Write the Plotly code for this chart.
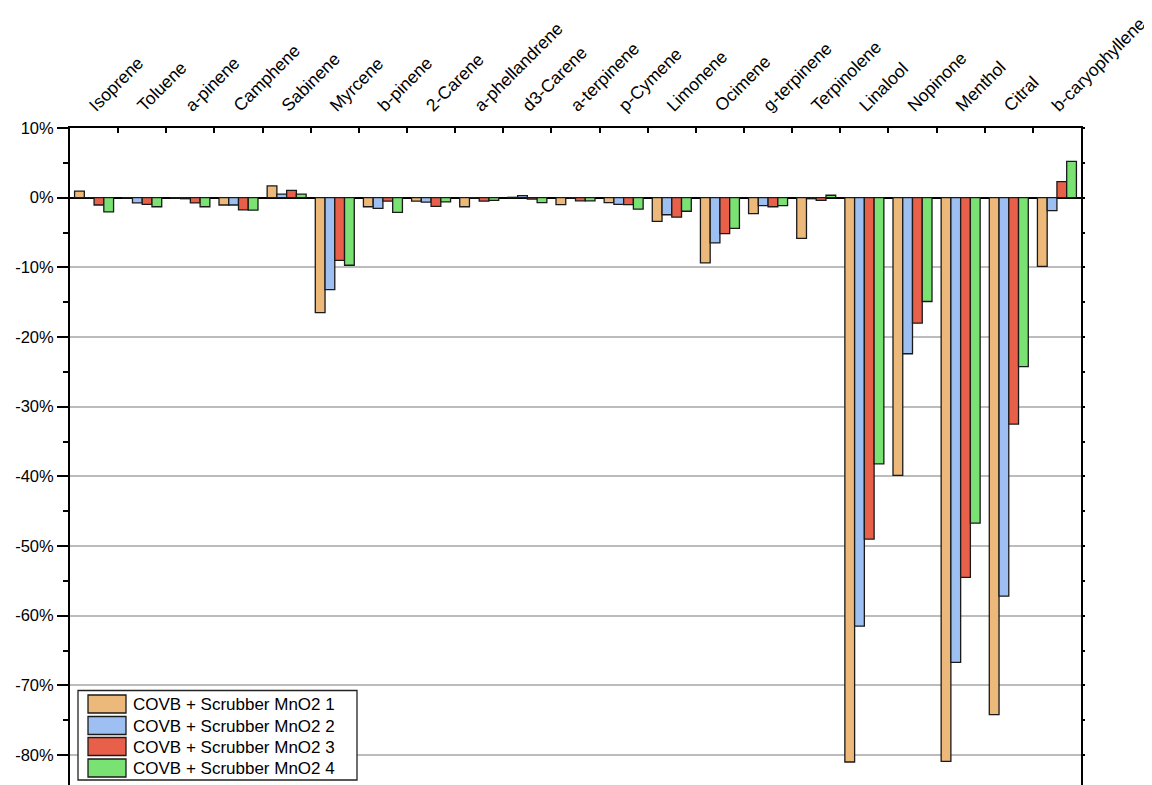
import plotly.graph_objects as go

categories = ["Isoprene", "Toluene", "a-pinene", "Camphene", "Sabinene", "Myrcene",
              "b-pinene", "2-Carene", "a-phellandrene", "d3-Carene", "a-terpinene",
              "p-Cymene", "Limonene", "Ocimene", "g-terpinene", "Terpinolene",
              "Linalool", "Nopinone", "Menthol", "Citral", "b-caryophyllene"]

series_names = ["COVB + Scrubber MnO2 1", "COVB + Scrubber MnO2 2",
                "COVB + Scrubber MnO2 3", "COVB + Scrubber MnO2 4"]

# values in percent
s1 = [0.95, -0.05, -0.05, -1.05, 1.7, -16.5, -1.3, -0.5, -1.3, 0.05, -1.0,
      -0.7, -3.4, -9.35, -2.3, -5.85, -81.0, -39.85, -80.9, -74.2, -9.85]
s2 = [0.0, -0.75, -0.15, -1.05, 0.5, -13.2, -1.55, -0.65, -0.05, 0.3, -0.05,
      -0.95, -2.45, -6.5, -1.15, -0.15, -61.5, -22.4, -66.7, -57.2, -1.85]
s3 = [-1.05, -0.95, -0.75, -1.75, 1.05, -9.0, -0.5, -1.25, -0.5, -0.2, -0.45,
      -1.0, -2.8, -5.15, -1.3, -0.4, -49.0, -18.0, -54.5, -32.5, 2.3]
s4 = [-2.05, -1.3, -1.3, -1.8, 0.5, -9.7, -2.1, -0.6, -0.4, -0.7, -0.45,
      -1.65, -1.95, -4.4, -1.15, 0.35, -38.2, -14.9, -46.7, -24.25, 5.2]

colors = ["#EDB97A", "#9DBFF2", "#E8604A", "#7AE272"]

y_tickvals = [10, 0, -10, -20, -30, -40, -50, -60, -70, -80]
y_ticktext = ["10%", "0%", "-10%", "-20%", "-30%", "-40%", "-50%", "-60%", "-70%", "-80%"]

# page body adds an 8px offset; figure sized so the screenshot frames it like the reference
OFF = 8
W, H = 1152 - OFF, 785 - OFF
ML, MR, MT, MB = 70 - OFF, 71, 128 - OFF, 0
FONT = "Liberation Sans, Arial, sans-serif"

fig = go.Figure()
for name, vals, col in zip(series_names, [s1, s2, s3, s4], colors):
    fig.add_trace(go.Bar(x=categories, y=vals, name=name, marker_color=col,
                         marker_line_color="#1a1a1a", marker_line_width=1.3,
                         showlegend=False))

# dummy trace to hold the right-hand tick axis
fig.add_trace(go.Scatter(x=[categories[0]], y=[None], yaxis="y2", showlegend=False,
                         hoverinfo="skip", mode="lines"))

yrange = [-84.3, 10]
fig.update_layout(
    width=W, height=H,
    margin=dict(l=ML, r=MR, t=MT, b=MB, pad=0, autoexpand=False),
    paper_bgcolor="white", plot_bgcolor="white",
    font=dict(family=FONT, size=16, color="black"),
    barmode="group", bargap=0.19, bargroupgap=0,
    xaxis=dict(side="top", type="category", tickangle=-45, tickson="boundaries",
               ticks="inside", ticklen=5, tickwidth=2, tickcolor="black",
               showline=True, linecolor="black", linewidth=2, showgrid=False,
               tickfont=dict(size=17.5), ticklabelstandoff=4, ticklabelshift=-4,
               automargin=False),
    yaxis=dict(range=yrange, tickmode="array", tickvals=y_tickvals, ticktext=y_ticktext,
               ticks="outside", ticklen=11, tickwidth=2, tickcolor="black",
               showline=True, linecolor="black", linewidth=2, mirror=True,
               showgrid=True, gridcolor="#bcbcbc", gridwidth=1.5,
               zeroline=True, zerolinecolor="black", zerolinewidth=2,
               tickfont=dict(size=16.5), automargin=False,
               minor=dict(tickmode="linear", tick0=0, dtick=5, ticks="outside",
                          ticklen=5, tickwidth=1.5, tickcolor="black", showgrid=False)),
    yaxis2=dict(range=yrange, overlaying="y", side="right", showticklabels=False,
                tickmode="linear", tick0=0, dtick=5, ticks="outside", ticklen=3,
                tickwidth=1.5, tickcolor="black", showgrid=False, zeroline=False,
                showline=False, automargin=False),
)

# custom legend (box + swatches + labels); coordinates given in screenshot pixels
pw, ph = W - ML - MR, H - MT - MB
def px2paper(x, y):
    x, y = x - OFF, y - OFF
    return (x - ML) / pw, (H - MB - y) / ph

bx0, by0 = px2paper(78, 690.5)
bx1, by1 = px2paper(357, 780)
fig.add_shape(type="rect", xref="paper", yref="paper", x0=bx0, y0=by0, x1=bx1, y1=by1,
              line=dict(color="#222", width=1.3), fillcolor="white", layer="above")
row_top = [695, 716.5, 737.5, 759]
for i, (name, col) in enumerate(zip(series_names, colors)):
    sx0, sy0 = px2paper(88, row_top[i])
    sx1, sy1 = px2paper(126, row_top[i] + 18)
    fig.add_shape(type="rect", xref="paper", yref="paper", x0=sx0, y0=sy0, x1=sx1, y1=sy1,
                  line=dict(color="#1a1a1a", width=1.3), fillcolor=col, layer="above")
    tx, ty = px2paper(131, row_top[i] + 9.5)
    fig.add_annotation(x=tx, y=ty, xref="paper", yref="paper", text=name,
                       showarrow=False, xanchor="left", yanchor="middle",
                       font=dict(size=17, family=FONT, color="black"))

fig.write_html("out.html")
